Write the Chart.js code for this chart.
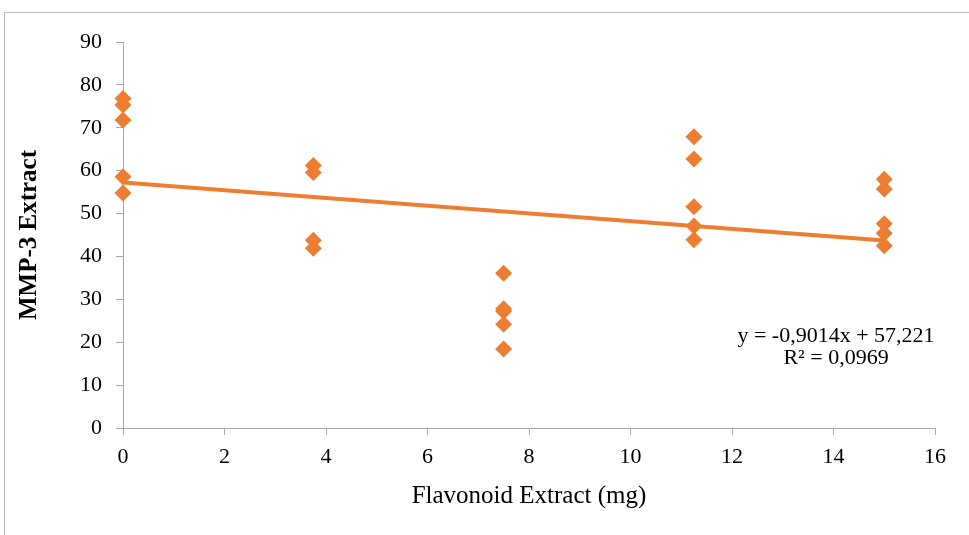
<!DOCTYPE html>
<html>
<head>
<meta charset="utf-8">
<script src="https://cdn.jsdelivr.net/npm/chart.js@4"></script>
<style>
  body { margin: 0; background: #fff; overflow: hidden; }
  #frame { position: absolute; left: 4px; top: 12px; width: 1100px; height: 700px; border: 1px solid #BFBFBF; }
  #chart { position: absolute; left: 0; top: 0; }
</style>
</head>
<body>
<div id="frame"></div>
<canvas id="chart" width="969" height="535"></canvas>
<script>
// flavonoid dose (mg) and measured MMP-3 values
const doseX = [0, 0, 0, 0, 0,
    3.75, 3.75, 3.75, 3.75,
    7.5, 7.5, 7.5, 7.5, 7.5,
    11.25, 11.25, 11.25, 11.25, 11.25,
    15, 15, 15, 15, 15];
const mmp3Y = [76.8, 75.3, 71.8, 58.6, 54.8,
    61.2, 59.6, 43.8, 41.9,
    36.1, 27.8, 27.2, 24.2, 18.4,
    67.9, 62.7, 51.6, 47.1, 43.9,
    58.0, 55.7, 47.6, 45.4, 42.5];
const trendEnds = [0, 15];
const trendSlope = -0.9014;
const trendIntercept = 57.221;
const equationLines = ['y = -0,9014x + 57,221', 'R\u00b2 = 0,0969'];

const orange = '#ED7D31';
const axisGray = '#A6A6A6';
const serif = "'Liberation Serif', 'Times New Roman', serif";

const scatterPoints = doseX.map(function (x, i) { return { x: x, y: mmp3Y[i] }; });
const trendPoints = trendEnds.map(function (x) { return { x: x, y: trendIntercept + trendSlope * x }; });

const equationLabel = {
    id: 'equationLabel',
    afterDatasetsDraw: function (chart) {
        const ctx = chart.ctx;
        const xs = chart.scales.x;
        const ys = chart.scales.y;
        const cx = xs.getPixelForValue(14.05);
        const cy = ys.getPixelForValue(21.5);
        ctx.save();
        ctx.font = '22px ' + serif;
        ctx.fillStyle = '#000';
        ctx.textAlign = 'center';
        ctx.textBaseline = 'middle';
        ctx.fillText(equationLines[0], cx, cy);
        ctx.fillText(equationLines[1], cx, cy + 22);
        ctx.restore();
    }
};

new Chart(document.getElementById('chart').getContext('2d'), {
    type: 'scatter',
    data: {
        datasets: [{
            label: 'MMP-3',
            data: scatterPoints,
            pointStyle: 'rectRot',
            pointRadius: 8.5,
            pointHoverRadius: 8.5,
            backgroundColor: orange,
            borderColor: orange,
            borderWidth: 0,
            clip: false,
            order: 0
        }, {
            type: 'line',
            label: 'Linear',
            data: trendPoints,
            borderColor: orange,
            borderWidth: 4,
            pointRadius: 0,
            fill: false,
            order: 1
        }]
    },
    options: {
        responsive: false,
        animation: false,
        layout: { padding: { left: 0, top: 42, right: 34, bottom: 0 } },
        plugins: {
            legend: { display: false },
            tooltip: { enabled: false }
        },
        scales: {
            x: {
                type: 'linear',
                min: 0,
                max: 16,
                afterFit: function (scale) { scale.height = 107; },
                ticks: {
                    stepSize: 2,
                    color: '#000',
                    padding: 9,
                    font: { family: serif, size: 22 }
                },
                grid: { drawOnChartArea: false, drawTicks: true, tickLength: 7, color: axisGray },
                border: { color: axisGray, width: 1 },
                title: {
                    display: true,
                    text: 'Flavonoid Extract (mg)',
                    color: '#000',
                    font: { family: serif, size: 25 },
                    padding: { top: 0, bottom: 24 }
                }
            },
            y: {
                min: 0,
                max: 90,
                afterFit: function (scale) { scale.width = 123; },
                ticks: {
                    stepSize: 10,
                    color: '#000',
                    padding: 14,
                    font: { family: serif, size: 22 }
                },
                grid: { drawOnChartArea: false, drawTicks: true, tickLength: 7, color: axisGray },
                border: { color: axisGray, width: 1 },
                title: {
                    display: true,
                    text: 'MMP-3 Extract',
                    color: '#000',
                    font: { family: serif, size: 25, weight: 'bold' },
                    padding: { top: 15, bottom: 0 }
                }
            }
        }
    },
    plugins: [equationLabel]
});
</script>
</body>
</html>
